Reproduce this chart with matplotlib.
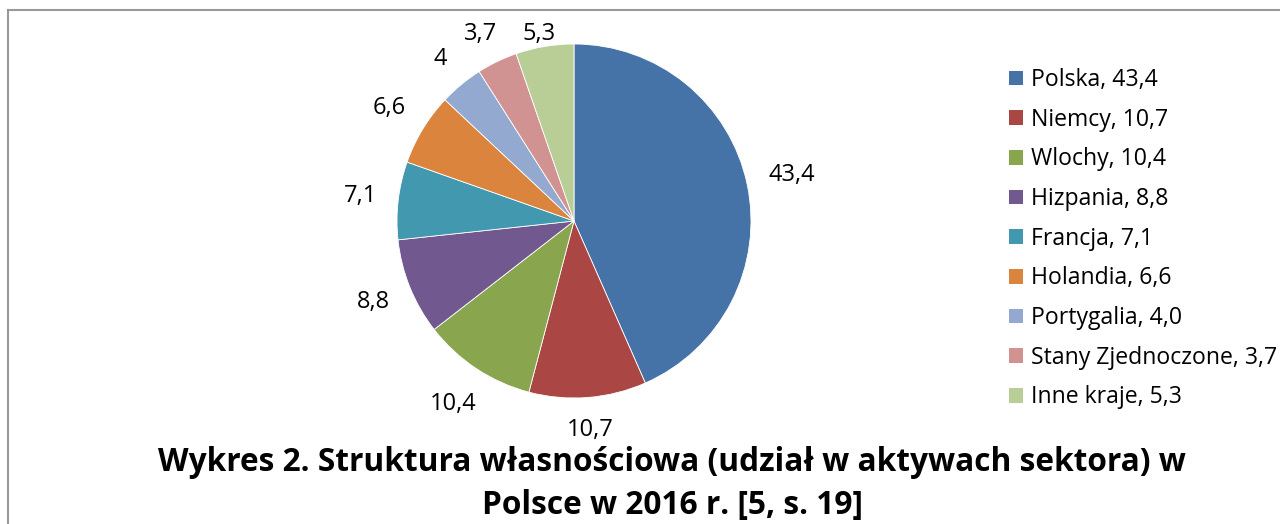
import numpy as np
import matplotlib
matplotlib.use("Agg")
import matplotlib.pyplot as plt
from matplotlib.patches import Patch
from matplotlib.lines import Line2D

plt.rcParams['font.family'] = ['Open Sans', 'DejaVu Sans']

kraje = ['Polska', 'Niemcy', 'Wlochy', 'Hizpania', 'Francja', 'Holandia',
         'Portygalia', 'Stany Zjednoczone', 'Inne kraje']
udzialy = [43.4, 10.7, 10.4, 8.8, 7.1, 6.6, 4.0, 3.7, 5.3]
etykiety = ['43,4', '10,7', '10,4', '8,8', '7,1', '6,6', '4', '3,7', '5,3']
legenda = ['Polska, 43,4', 'Niemcy, 10,7', 'Wlochy, 10,4', 'Hizpania, 8,8',
           'Francja, 7,1', 'Holandia, 6,6', 'Portygalia, 4,0',
           'Stany Zjednoczone, 3,7', 'Inne kraje, 5,3']
kolory = ['#4572A7', '#AA4643', '#89A54E', '#71588F', '#4198AF',
          '#DB843D', '#93A9CF', '#D19392', '#B9CD96']

W, H = 1280, 524
fig = plt.figure(figsize=(W / 100, H / 100), dpi=100)

# ramka wykresu (lewa i gorna krawedz widoczne)
fig.add_artist(Line2D([8 / W, 8 / W], [0, 1 - 10 / H], color='#999999', lw=1.5))
fig.add_artist(Line2D([8 / W, 1], [1 - 10 / H, 1 - 10 / H], color='#999999', lw=1.5))

# os kolowa: srodek (574, 221) px, promien 177 px
R = 177
cx, cy = 574, H - 221
side = 2 * 1.4 * R
ax = fig.add_axes([(cx - side / 2) / W, (cy - side / 2) / H, side / W, side / H])
wedges, _ = ax.pie(udzialy, colors=kolory, startangle=90, counterclock=False,
                   wedgeprops=dict(edgecolor='white', linewidth=0.6))
ax.set_xlim(-1.4, 1.4)
ax.set_ylim(-1.4, 1.4)
ax.set_aspect('equal')
ax.axis('off')

# etykiety danych "na zewnatrz", jak w Excelu: krawedz tekstu ~20 px od kola
fig.canvas.draw()
renderer = fig.canvas.get_renderer()
px = 1 / R  # jednostki osi na piksel
for w, lab in zip(wedges, etykiety):
    kat = np.deg2rad((w.theta1 + w.theta2) / 2)
    ux, uy = np.cos(kat), np.sin(kat)
    t = ax.text(0, 0, lab, fontsize=17, ha='center', va='center')
    bw = t.get_window_extent(renderer).width
    d = 1 + px * (20 + bw / 2 * abs(ux) + 11 * abs(uy))
    x, y = d * ux, d * uy
    y = min(y, 1 + px * 10)  # etykieta musi zmiescic sie w obszarze wykresu
    t.set_position((x, y))

uchwyty = [Patch(facecolor=k, edgecolor='none') for k in kolory]
fig.legend(uchwyty, legenda, loc='upper left',
           bbox_to_anchor=(1009 / W, 1 - 68 / H), frameon=False,
           fontsize=16.6, handlelength=0.6, handleheight=0.6,
           handletextpad=0.35, labelspacing=0.68, borderpad=0, borderaxespad=0)

fig.text(672 / W, 1 - 484 / H,
         'Wykres 2. Struktura własnościowa (udział w aktywach sektora) w\n'
         'Polsce w 2016 r. [5, s. 19]',
         ha='center', va='center', fontsize=22.8, fontweight='bold',
         linespacing=1.43)

fig.savefig('out.png', dpi=100)
